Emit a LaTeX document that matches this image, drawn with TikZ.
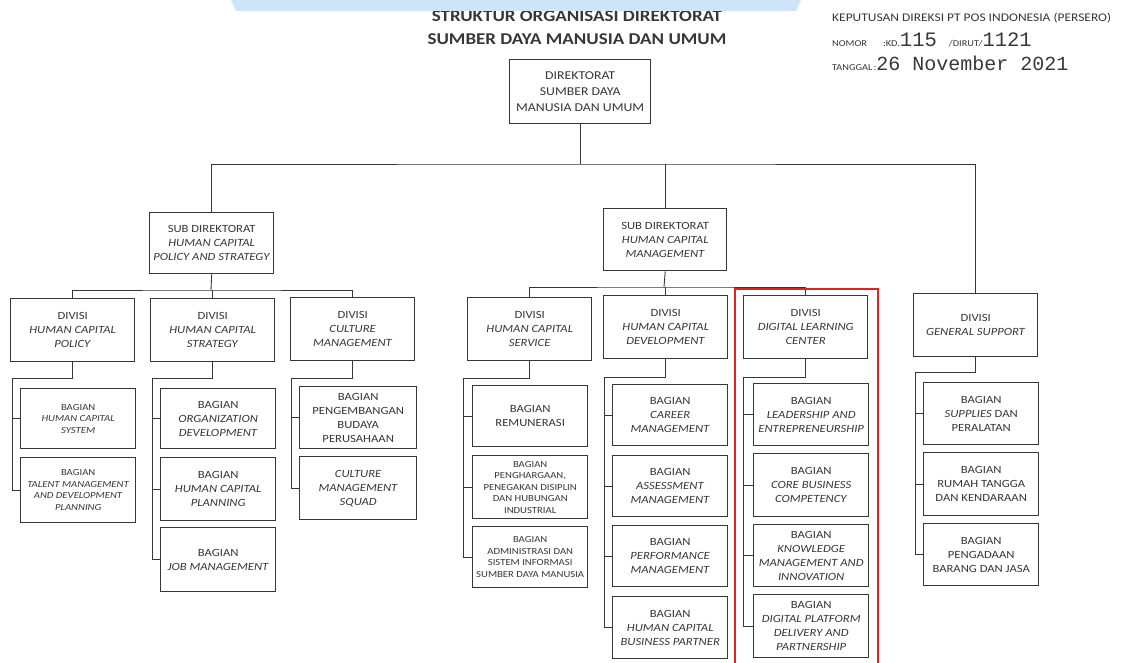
\documentclass[tikz,border=0pt]{standalone}
\usepackage{fontspec}
\setmainfont{Carlito}[FakeStretch=1.15]
\newfontfamily\monofont{Liberation Mono}
\usepackage{tikz}
\usetikzlibrary{positioning}

\definecolor{bandblue}{RGB}{207,228,247}
\definecolor{inkgray}{RGB}{55,55,55}
\definecolor{markred}{RGB}{225,32,36}

\begin{document}
\begin{tikzpicture}[x=1pt, y=-1pt,
    unit/.style={rectangle, draw=inkgray, line width=1.4pt, fill=white, align=center,
        anchor=north west, inner sep=1pt, text=inkgray,
        font=\fontsize{11}{14}\selectfont},
    divbox/.style={unit, minimum width=124, minimum height=63},
    bagbox/.style={unit, minimum width=115, minimum height=62},
    tinytext/.style={font=\fontsize{9.3}{11.5}\selectfont},
    conn/.style={draw=inkgray, line width=0.9pt},
    header/.style={anchor=west, inner sep=0pt, text=inkgray}
    ]
    \useasboundingbox (0,0) rectangle (1132,663);

    % title and decree
    \node (Title01) [inner sep=0pt, text=inkgray, font=\bfseries\fontsize{16.5}{20}\selectfont]
        at (577,16) {STRUKTUR ORGANISASI DIREKTORAT};
    \node (Title02) [inner sep=0pt, text=inkgray, font=\bfseries\fontsize{16.5}{20}\selectfont]
        at (577,39) {SUMBER DAYA MANUSIA DAN UMUM};
    \fill[bandblue] (231,0) -- (801,0) -- (796,11) -- (236,11) -- cycle;
    \node (Decree01) [header, font=\fontsize{11.7}{12}\selectfont] at (832,18)
        {KEPUTUSAN DIREKSI PT POS INDONESIA (PERSERO)};
    \node (Decree02) [header, font=\fontsize{9}{12}\selectfont] at (832,40)
        {NOMOR\hspace{16pt}:KD.{\monofont\fontsize{20.5}{20}\selectfont 115}\hspace{12pt}/DIRUT/{\monofont\fontsize{20.5}{20}\selectfont 1121}};
    \node (Decree03) [header, font=\fontsize{9}{12}\selectfont] at (832,63)
        {TANGGAL\hspace{1pt}:{\monofont\fontsize{20}{22}\selectfont 26 November 2021}};

    % direktorat
    \node (Dir00) [unit, minimum width=141, minimum height=64, font=\fontsize{12}{16}\selectfont] at (509,59)
        {DIREKTORAT\\SUMBER DAYA\\MANUSIA DAN UMUM};
    \node (SubDir01) [unit, minimum width=124, minimum height=61] at (149,212)
        {SUB DIREKTORAT\\\textit{HUMAN CAPITAL}\\\textit{POLICY AND STRATEGY}};
    \node (SubDir02) [unit, minimum width=123, minimum height=62] at (603,208)
        {SUB DIREKTORAT\\\textit{HUMAN CAPITAL}\\\textit{MANAGEMENT}};

    % divisi
    \node (Div1) [divbox] at (10,298) {DIVISI\\\textit{HUMAN CAPITAL}\\\textit{POLICY}};
    \node (Div2) [divbox] at (150,298) {DIVISI\\\textit{HUMAN CAPITAL}\\\textit{STRATEGY}};
    \node (Div3) [divbox] at (290,297) {DIVISI\\\textit{CULTURE}\\\textit{MANAGEMENT}};
    \node (Div4) [divbox] at (467,297) {DIVISI\\\textit{HUMAN CAPITAL}\\\textit{SERVICE}};
    \node (Div5) [divbox] at (603,295) {DIVISI\\\textit{HUMAN CAPITAL}\\\textit{DEVELOPMENT}};
    \node (Div6) [divbox] at (743,295) {DIVISI\\\textit{DIGITAL LEARNING}\\\textit{CENTER}};
    \node (Div7) [divbox] at (913,293) {DIVISI\\\textit{GENERAL SUPPORT}};

    % bagian
    \node (Bag11) [bagbox, minimum height=60, tinytext] at (20,388)
        {BAGIAN\\\textit{HUMAN CAPITAL}\\\textit{SYSTEM}};
    \node (Bag12) [bagbox, minimum height=65, tinytext] at (20,457)
        {BAGIAN\\\textit{TALENT MANAGEMENT}\\\textit{AND DEVELOPMENT}\\\textit{PLANNING}};
    \node (Bag21) [bagbox, minimum height=60] at (160,388)
        {BAGIAN\\\textit{ORGANIZATION}\\\textit{DEVELOPMENT}};
    \node (Bag22) [bagbox, minimum height=63] at (160,457)
        {BAGIAN\\\textit{HUMAN CAPITAL}\\\textit{PLANNING}};
    \node (Bag23) [bagbox, minimum height=64] at (160,527)
        {BAGIAN\\\textit{JOB MANAGEMENT}};
    \node (Bag31) [bagbox, minimum width=117] at (299,386)
        {BAGIAN\\PENGEMBANGAN\\BUDAYA\\PERUSAHAAN};
    \node (Bag32) [bagbox, minimum width=117, minimum height=63] at (299,456)
        {\textit{CULTURE}\\\textit{MANAGEMENT}\\\textit{SQUAD}};
    \node (Bag41) [bagbox, minimum height=61] at (472,385) {BAGIAN\\REMUNERASI};
    \node (Bag42) [bagbox, minimum height=63, tinytext] at (472,455)
        {BAGIAN\\PENGHARGAAN,\\PENEGAKAN DISIPLIN\\DAN HUBUNGAN\\INDUSTRIAL};
    \node (Bag43) [bagbox, minimum height=61, tinytext] at (472,526)
        {BAGIAN\\ADMINISTRASI DAN\\SISTEM INFORMASI\\SUMBER DAYA MANUSIA};
    \node (Bag51) [bagbox, minimum height=61] at (612,384) {BAGIAN\\\textit{CAREER}\\\textit{MANAGEMENT}};
    \node (Bag52) [bagbox, minimum height=61] at (612,455) {BAGIAN\\\textit{ASSESSMENT}\\\textit{MANAGEMENT}};
    \node (Bag53) [bagbox, minimum height=61] at (612,525) {BAGIAN\\\textit{PERFORMANCE}\\\textit{MANAGEMENT}};
    \node (Bag54) [bagbox] at (612,596) {BAGIAN\\\textit{HUMAN CAPITAL}\\\textit{BUSINESS PARTNER}};
    \node (Bag61) [bagbox] at (753,383) {BAGIAN\\\textit{LEADERSHIP AND}\\\textit{ENTREPRENEURSHIP}};
    \node (Bag62) [bagbox, minimum height=63] at (753,453) {BAGIAN\\\textit{CORE BUSINESS}\\\textit{COMPETENCY}};
    \node (Bag63) [bagbox] at (753,524)
        {BAGIAN\\\textit{KNOWLEDGE}\\\textit{MANAGEMENT AND}\\\textit{INNOVATION}};
    \node (Bag64) [bagbox, minimum height=63] at (753,594)
        {BAGIAN\\\textit{DIGITAL PLATFORM}\\\textit{DELIVERY AND}\\\textit{PARTNERSHIP}};
    \node (Bag71) [bagbox] at (923,382) {BAGIAN\\\textit{SUPPLIES} DAN\\PERALATAN};
    \node (Bag72) [bagbox, minimum height=63] at (923,452) {BAGIAN\\RUMAH TANGGA\\DAN KENDARAAN};
    \node (Bag73) [bagbox] at (923,523) {BAGIAN\\PENGADAAN\\BARANG DAN JASA};

    % connectors
    \coordinate (Top) at (579.5,164);
    \coordinate (Bus1) at (211,290);
    \coordinate (Bus2) at (664,287);
    \draw[conn] (Dir00.south) -- (Dir00.south |- Top);
    \draw[conn] (SubDir01.north) |- (Top) -| (Div7.north);
    \draw[conn] (SubDir02.north) -- (SubDir02.north |- Top);
    \draw[conn] (SubDir01.south) -- (Bus1);
    \draw[conn] (Div1.north) |- (Bus1) -| (Div3.north);
    \draw[conn] (Div2.north) -- (Div2.north |- Bus1);
    \draw[conn] (SubDir02.south) -- (Bus2);
    \draw[conn] (Div4.north) |- (Bus2) -| (Div6.north);
    \draw[conn] (Div5.north) -- (Div5.north |- Bus2);

    \draw[conn] (Div1.south) -- ++(0,16) -| ([xshift=-8pt]Bag12.west) -- (Bag12.west)
        ([xshift=-8pt]Bag11.west) -- (Bag11.west);
    \draw[conn] (Div2.south) -- ++(0,16) -| ([xshift=-8pt]Bag23.west) -- (Bag23.west)
        ([xshift=-8pt]Bag21.west) -- (Bag21.west) ([xshift=-8pt]Bag22.west) -- (Bag22.west);
    \draw[conn] (Div3.south) -- ++(0,17) -| ([xshift=-8pt]Bag32.west) -- (Bag32.west)
        ([xshift=-8pt]Bag31.west) -- (Bag31.west);
    \draw[conn] (Div4.south) -- ++(0,17) -| ([xshift=-9pt]Bag43.west) -- (Bag43.west)
        ([xshift=-9pt]Bag41.west) -- (Bag41.west) ([xshift=-9pt]Bag42.west) -- (Bag42.west);
    \draw[conn] (Div5.south) -- ++(0,18) -| ([xshift=-8pt]Bag54.west) -- (Bag54.west)
        ([xshift=-8pt]Bag51.west) -- (Bag51.west) ([xshift=-8pt]Bag52.west) -- (Bag52.west)
        ([xshift=-8pt]Bag53.west) -- (Bag53.west);
    \draw[conn] (Div6.south) -- ++(0,18) -| ([xshift=-10pt]Bag64.west) -- (Bag64.west)
        ([xshift=-10pt]Bag61.west) -- (Bag61.west) ([xshift=-10pt]Bag62.west) -- (Bag62.west)
        ([xshift=-10pt]Bag63.west) -- (Bag63.west);
    \draw[conn] (Div7.south) -- ++(0,15) -| ([xshift=-8pt]Bag73.west) -- (Bag73.west)
        ([xshift=-8pt]Bag71.west) -- (Bag71.west) ([xshift=-8pt]Bag72.west) -- (Bag72.west);

    % highlight
    \draw[markred, line width=1.4pt] (735,663) -- (735,289) -- (878,289) -- (878,663);
\end{tikzpicture}
\end{document}
